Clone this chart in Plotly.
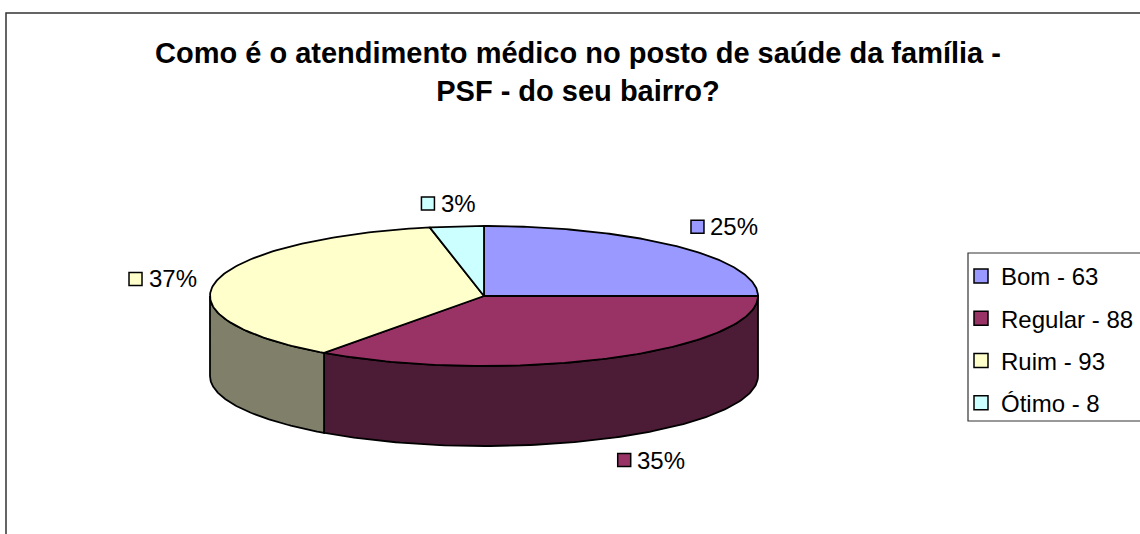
import numpy as np
import plotly.graph_objects as go

# ---- data ----
categories = ["Bom", "Regular", "Ruim", "Ótimo"]
values = [63, 88, 93, 8]
top_colors = ["#9999FF", "#993366", "#FFFFCC", "#CCFFFF"]
side_colors = ["#4F4F99", "#4C1B36", "#80806A", "#6A8080"]
title_text = "Como é o atendimento médico no posto de saúde da família -<br>PSF - do seu bairro?"

# ---- geometry (pixel space) ----
W, H = 1140, 534
cx, cy = 484, 296
rx, ry = 274, 70
depth = 80
font_family = "Arial, Liberation Sans, sans-serif"
label_size = 24

total = sum(values)
fracs = [v / total for v in values]
starts = []
acc = -90.0
for f in fracs:
    starts.append(acc)
    acc += f * 360
ends = [s + f * 360 for s, f in zip(starts, fracs)]

fig = go.Figure()
line_style = dict(color="black", width=1.8)

def arc(a, b, n=120):
    t = np.radians(np.linspace(a, b, n))
    return cx + rx * np.cos(t), cy + ry * np.sin(t)

# side faces (front half: 0..180 deg, y-down)
for i in range(len(values)):
    a, b = max(starts[i], 0), min(ends[i], 180)
    if b <= a:
        continue
    xs, ys = arc(a, b)
    px = np.concatenate([xs, xs[::-1], xs[:1]])
    py = np.concatenate([ys, ys[::-1] + depth, ys[:1]])
    fig.add_trace(go.Scatter(x=px, y=py, mode="lines", fill="toself",
                             fillcolor=side_colors[i], line=line_style,
                             hoverinfo="skip", showlegend=False))

# top faces
for i in range(len(values)):
    xs, ys = arc(starts[i], ends[i])
    px = np.concatenate([[cx], xs, [cx]])
    py = np.concatenate([[cy], ys, [cy]])
    fig.add_trace(go.Scatter(x=px, y=py, mode="lines", fill="toself",
                             fillcolor=top_colors[i], line=line_style,
                             hoverinfo="skip", showlegend=False))

# data labels: anchored just outside the pie edge along the mid-angle
arx, ary = 292, 81
annotations = []
for i in range(len(values)):
    mid = np.radians((starts[i] + ends[i]) / 2)
    c, s = np.cos(mid), np.sin(mid)
    px_ = cx + arx * c
    py_ = cy + ary * s + (depth if s > 0 else 0)
    txt = f"{round(100 * fracs[i])}%"
    tw = label_size * (0.556 * (len(txt) - 1) + 0.889)
    bw, bh = 14 + 8 + tw, 24
    if c > 0.3:
        x0 = px_
    elif c < -0.3:
        x0 = px_ - bw
    else:
        x0 = px_ - bw * (1 - 2 * c) / 2
    if s < -0.3:
        yc = py_ - bh / 2
    elif s > 0.3:
        yc = py_ + bh / 2
    else:
        yc = py_
    fig.add_trace(go.Scatter(x=[x0 + 7], y=[yc], mode="markers",
                             marker=dict(symbol="square", size=13, color=top_colors[i],
                                         line=dict(color="black", width=1.5)),
                             hoverinfo="skip", showlegend=False))
    annotations.append(dict(x=x0 + 18, y=yc, xref="x", yref="y", text=txt,
                            showarrow=False, xanchor="left", yanchor="middle",
                            font=dict(size=label_size, color="black", family=font_family)))

# legend entries
for i in range(len(values)):
    fig.add_trace(go.Scatter(x=[None], y=[None], mode="markers",
                             name=f"{categories[i]} - {values[i]}",
                             legendgroup=categories[i],
                             marker=dict(symbol="square", size=14, color=top_colors[i],
                                         line=dict(color="black", width=1.5))))

fig.update_layout(
    width=W, height=H,
    margin=dict(l=0, r=0, t=0, b=0, autoexpand=False),
    paper_bgcolor="white", plot_bgcolor="white",
    title=dict(text=f"<b>{title_text}</b>", x=578 / W, xanchor="center",
               y=1 - 63 / H, yanchor="middle", yref="container",
               font=dict(size=29, color="black", family=font_family)),
    xaxis=dict(range=[0, W], visible=False, fixedrange=True),
    yaxis=dict(range=[H, 0], visible=False, fixedrange=True),
    showlegend=True,
    legend=dict(x=961 / W, y=1 - 254 / H, xanchor="left", yanchor="top",
                borderwidth=0, bgcolor="rgba(0,0,0,0)",
                font=dict(size=label_size, color="black", family=font_family),
                traceorder="grouped", tracegroupgap=8, itemsizing="trace",
                itemwidth=30),
    annotations=annotations,
    shapes=[
        dict(type="rect", xref="paper", yref="paper",
             x0=6 / W, x1=1.05, y0=-0.05, y1=1 - 13 / H,
             line=dict(color="#333333", width=1.5), fillcolor="rgba(0,0,0,0)",
             layer="below"),
        dict(type="rect", xref="paper", yref="paper",
             x0=968 / W, x1=1.05, y0=1 - 421 / H, y1=1 - 253 / H,
             line=dict(color="#333333", width=1.2), fillcolor="white",
             layer="below"),
    ],
)

fig.write_html("out.html", config={"displayModeBar": False},
               post_script="document.body.style.margin='0';")
